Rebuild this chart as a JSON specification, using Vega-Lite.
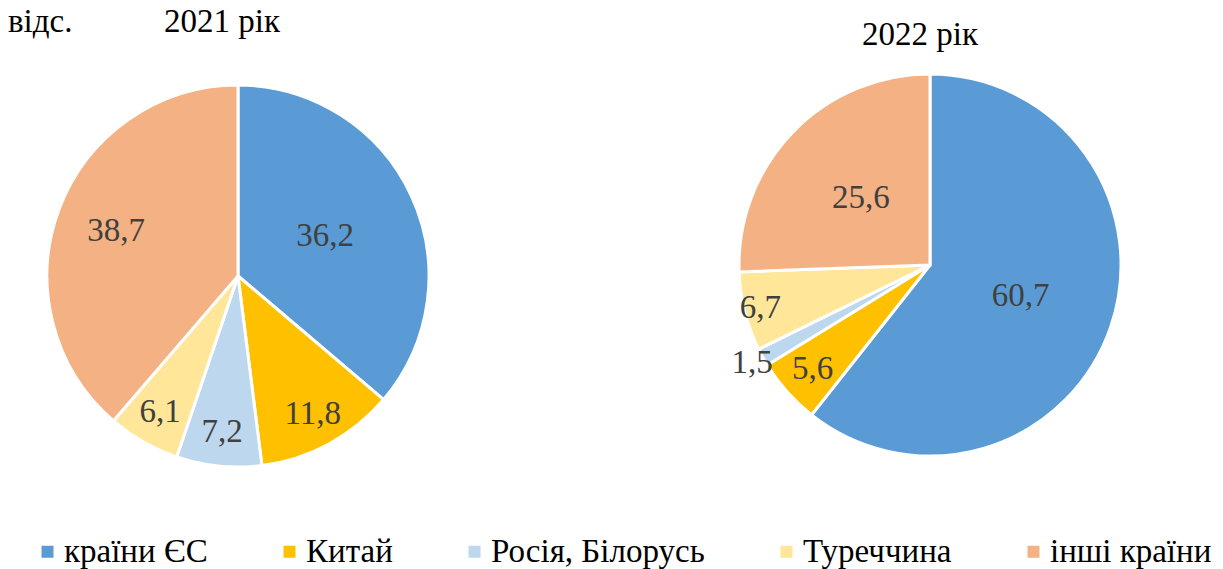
{
  "$schema": "https://vega.github.io/schema/vega-lite/v6.json",
  "width": 1223,
  "height": 569,
  "autosize": {"type": "none"},
  "padding": 0,
  "background": "white",
  "title": {
    "text": "відс.",
    "anchor": "start",
    "frame": "group",
    "orient": "top",
    "offset": 0,
    "baseline": "alphabetic",
    "dx": 8,
    "dy": 65,
    "font": "Liberation Serif",
    "fontSize": 33,
    "fontWeight": "normal",
    "color": "#000000"
  },
  "data": {
    "values": [
      {"year": 2021, "yearTitle": "2021 рік", "cat": "країни ЄС", "k": 1, "value": 36.2},
      {"year": 2021, "yearTitle": "2021 рік", "cat": "Китай", "k": 2, "value": 11.8},
      {"year": 2021, "yearTitle": "2021 рік", "cat": "Росія, Білорусь", "k": 3, "value": 7.2},
      {"year": 2021, "yearTitle": "2021 рік", "cat": "Туреччина", "k": 4, "value": 6.1},
      {"year": 2021, "yearTitle": "2021 рік", "cat": "інші країни", "k": 5, "value": 38.7},
      {"year": 2022, "yearTitle": "2022 рік", "cat": "країни ЄС", "k": 1, "value": 60.7},
      {"year": 2022, "yearTitle": "2022 рік", "cat": "Китай", "k": 2, "value": 5.6},
      {"year": 2022, "yearTitle": "2022 рік", "cat": "Росія, Білорусь", "k": 3, "value": 1.5},
      {"year": 2022, "yearTitle": "2022 рік", "cat": "Туреччина", "k": 4, "value": 6.7},
      {"year": 2022, "yearTitle": "2022 рік", "cat": "інші країни", "k": 5, "value": 25.6}
    ]
  },
  "layer": [
    {
      "transform": [
        {"stack": "value", "groupby": ["year"], "sort": [{"field": "k", "order": "ascending"}], "offset": "normalize", "as": ["v0", "v1"]}
      ],
      "mark": {"type": "arc", "radius": 191, "stroke": "#ffffff", "strokeWidth": 3},
      "encoding": {
        "x": {"field": "year", "type": "ordinal", "scale": {"type": "point", "domain": [2021, 2022], "range": [238, 930], "padding": 0}, "axis": null},
        "y": {"field": "year", "type": "ordinal", "scale": {"type": "point", "domain": [2021, 2022], "range": [276, 265], "padding": 0}, "axis": null},
        "theta": {"field": "v0", "type": "quantitative", "scale": {"domain": [0, 1], "range": [0, 6.283185307179586]}},
        "theta2": {"field": "v1"},
        "color": {
          "field": "cat",
          "type": "nominal",
          "scale": {
            "domain": ["країни ЄС", "Китай", "Росія, Білорусь", "Туреччина", "інші країни"],
            "range": ["#5B9BD5", "#FFC000", "#BDD7EE", "#FFE699", "#F4B183"]
          },
          "legend": {
            "orient": "none",
            "legendX": 31,
            "legendY": 535,
            "direction": "horizontal",
            "columns": 5,
            "title": null,
            "symbolType": "square",
            "symbolSize": 144,
            "symbolStrokeWidth": 0,
            "labelFont": "Liberation Serif",
            "labelFontSize": 33,
            "labelColor": "#000000",
            "labelOffset": 0,
            "columnPadding": 65,
            "padding": 0,
            "labelLimit": 400
          }
        }
      }
    },
    {
      "transform": [
        {"stack": "value", "groupby": ["year"], "sort": [{"field": "k", "order": "ascending"}], "offset": "normalize", "as": ["v0", "v1"]},
        {"calculate": "(datum.v0 + datum.v1) / 2", "as": "vmid"}
      ],
      "mark": {"type": "text", "font": "Liberation Serif", "fontSize": 33, "color": "#404040", "baseline": "middle", "align": "center",
        "radius": {"expr": "datum.value < 2 ? 203 : (datum.value > 37 && datum.value < 40) ? 130 : datum.value > 20 ? 96 : (datum.value > 6.5 && datum.value < 7) ? 175 : 157"}},
      "encoding": {
        "x": {"field": "year", "type": "ordinal", "scale": {"type": "point", "domain": [2021, 2022], "range": [238, 930], "padding": 0}, "axis": null},
        "y": {"field": "year", "type": "ordinal", "scale": {"type": "point", "domain": [2021, 2022], "range": [276, 265], "padding": 0}, "axis": null},
        "theta": {"field": "vmid", "type": "quantitative", "scale": {"domain": [0, 1], "range": [0, 6.283185307179586]}},
        "text": {"field": "value", "type": "quantitative", "format": ".1f"}
      }
    },
    {
      "transform": [{"aggregate": [{"op": "count", "as": "n"}], "groupby": ["year", "yearTitle"]}],
      "mark": {"type": "text", "font": "Liberation Serif", "fontSize": 33, "color": "#000000", "baseline": "alphabetic", "align": "center"},
      "encoding": {
        "x": {"field": "year", "type": "ordinal", "scale": {"type": "point", "domain": [2021, 2022], "range": [222, 920], "padding": 0}, "axis": null},
        "y": {"field": "year", "type": "ordinal", "scale": {"type": "point", "domain": [2021, 2022], "range": [32, 45], "padding": 0}, "axis": null},
        "text": {"field": "yearTitle", "type": "nominal"}
      }
    }
  ],
  "resolve": {"scale": {"x": "independent", "y": "independent"}},
  "config": {
    "view": {"stroke": null},
    "locale": {"number": {"decimal": ",", "thousands": " ", "grouping": [3], "currency": ["", ""]}}
  }
}
